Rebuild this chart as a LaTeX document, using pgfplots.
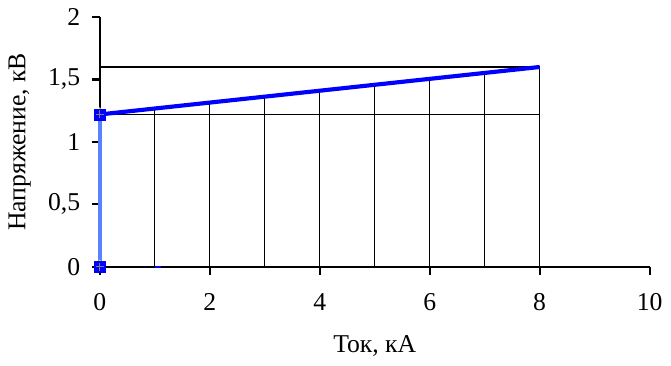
\documentclass[border=0pt]{standalone}
\usepackage{fontspec}
\setmainfont{Liberation Serif}
\usepackage{pgfplots}
\pgfplotsset{compat=1.18}
\definecolor{lblue}{RGB}{90,130,255}
\begin{document}
\fontsize{26}{30}\selectfont
\begin{tikzpicture}
\begin{axis}[
  scale only axis, width=557pt, height=253pt,
  xmin=0, xmax=10, ymin=0, ymax=2,
  axis x line=bottom, axis y line=left,
  axis line style={-, line width=2.4pt},
  tick align=outside, major tick length=8pt,
  tick style={black, line width=2.2pt},
  xtick={0,2,4,6,8,10},
  xticklabels={0,2,4,6,8,10},
  ytick={0,0.5,1,1.5,2},
  yticklabels={0,{0,5},1,{1,5},2},
  ticklabel style={font=\rmfamily\fontsize{26}{30}\selectfont},
  xticklabel style={yshift=-10pt},
  yticklabel style={xshift=-3pt},
  label style={font=\rmfamily\fontsize{26}{30}\selectfont},
  xlabel={Ток, кА}, ylabel={Напряжение, кВ},
  xlabel style={yshift=-8pt},
  ylabel style={yshift=0pt},
  clip=false,
]
\addplot[black, line width=1.3pt, ycomb, no marks] coordinates {(1,1.2675)(2,1.315)(3,1.3625)(4,1.41)(5,1.4575)(6,1.505)(7,1.5525)(8,1.6)};
\addplot[black, line width=1.3pt, no marks] coordinates {(0,1.22)(8,1.22)};
\addplot[black, line width=1.3pt, no marks] coordinates {(0,1.6)(8,1.6)};
\addplot[lblue, line width=3.5pt, no marks] coordinates {(0,0)(0,1.22)};
\addplot[blue, line width=4.2pt, no marks] coordinates {(0,1.22)(8,1.6)};
\addplot[blue, line width=2.4pt, no marks] coordinates {(1,0)(1.12,0)};
\addplot[only marks, mark=triangle*, mark size=7pt, mark options={fill=yellow, draw=yellow}] coordinates {(0,0)(0,1.22)};
\addplot[only marks, mark=square*, mark size=5.5pt, mark options={fill=blue, draw=blue}] coordinates {(0,0)(0,1.22)};
\addplot[only marks, mark=+, mark size=4pt, mark options={draw=black!50, line width=0.7pt}] coordinates {(0,0)(0,1.22)};
\end{axis}
\end{tikzpicture}
\end{document}
